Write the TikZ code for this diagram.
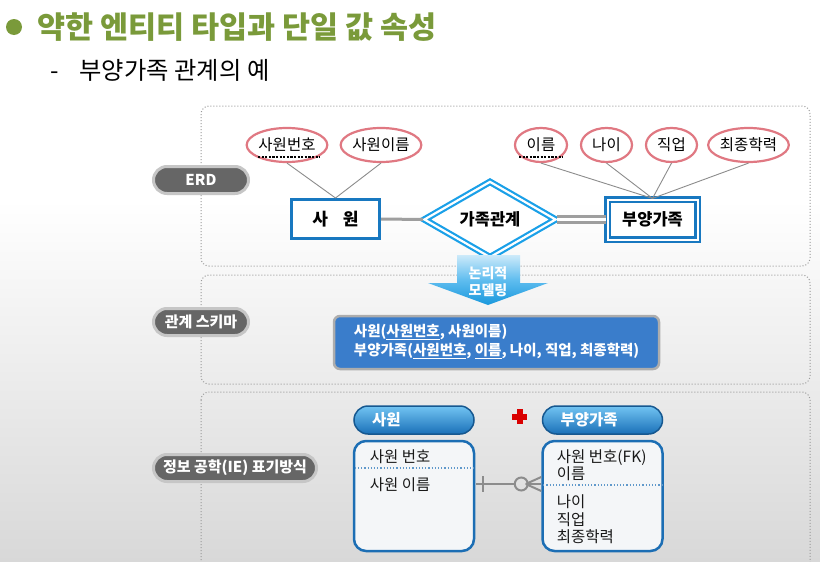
\documentclass[tikz,border=0pt]{standalone}
\usepackage{fontspec}
\setmainfont{Noto Sans CJK KR}
\usetikzlibrary{shapes.geometric,calc}
\definecolor{titlegreen}{HTML}{7A9A3A}
\definecolor{entblue}{HTML}{1878C0}
\definecolor{relblue}{HTML}{1AA0E8}
\definecolor{attrpink}{HTML}{E07882}
\definecolor{pillgray}{HTML}{666666}
\definecolor{pillrim}{HTML}{C6C6C6}
\definecolor{dotgray}{HTML}{9A9A9A}
\definecolor{schemablue}{HTML}{3A7DCB}
\definecolor{linegray}{HTML}{8C8C8C}
\definecolor{bggray}{HTML}{D8D8D8}
\definecolor{iebody}{HTML}{F4F6F8}
\definecolor{ieborder}{HTML}{1C6EB4}
\definecolor{HeadTop}{HTML}{72C4F2}
\definecolor{HeadBot}{HTML}{1A70B8}
\newcommand{\myfs}[2]{\fontsize{#1}{#2}\selectfont}
\begin{document}
\begin{tikzpicture}[x=1pt,y=-1pt,
  frame/.style={draw=dotgray, dotted, line width=1pt, rounded corners=8pt},
  pill/.style={draw=pillrim, line width=3pt, fill=pillgray, rounded corners=13.5pt, minimum height=27pt, text=white, font=\myfs{15}{17}\bfseries, inner sep=0},
  attr/.style={ellipse, draw=attrpink, line width=2.2pt, fill=white, minimum height=34pt, inner sep=0, font=\myfs{15.5}{17}},
  entity/.style={draw=entblue, line width=3pt, fill=white, minimum width=88pt, minimum height=39pt, inner sep=0, font=\myfs{17}{19}\bfseries},
  weakentity/.style={draw=entblue, line width=2.2pt, double=white, double distance=2pt, fill=white, minimum width=90pt, minimum height=40pt, inner sep=0, font=\myfs{16.5}{18}\bfseries},
  relation/.style={diamond, draw=relblue, line width=2.2pt, double=white, double distance=2.2pt, fill=white, minimum width=132pt, minimum height=56pt, inner sep=0, font=\myfs{16.5}{18}\bfseries},
  attrline/.style={draw=linegray, line width=0.9pt},
  keyline/.style={draw=black, line width=2pt, dash pattern=on 2.2pt off 1.4pt},
  headpill/.style={draw=ieborder!80!black, line width=1.5pt, top color=HeadTop, bottom color=HeadBot, rounded corners=14pt, minimum height=28pt, minimum width=120pt, text width=84pt, inner xsep=18pt, align=left, text=white, font=\myfs{15.5}{17}\bfseries},
  iebox/.style={draw=ieborder, line width=2.5pt, fill=iebody, rounded corners=12pt, minimum width=120pt, minimum height=110pt},
  ietext/.style={anchor=west, align=left, inner sep=0, font=\myfs{15.5}{16.5}, text=black!90},
  ieline/.style={draw=linegray, line width=2pt},
]
\useasboundingbox (0,0) rectangle (820,562);
\clip (0,0) rectangle (820,562);
% background
\fill[white] (0,0) rectangle (820,562);
\shade[top color=white, bottom color=bggray] (0,200) rectangle (820,562);

% title
\fill[titlegreen] (14,27) circle (8);
\node[anchor=west, inner sep=0, text=titlegreen, font=\myfs{30.5}{33}\bfseries] (title) at (37,27) {약한 엔티티 타입과 단일 값 속성};
\node[anchor=west, inner sep=0, font=\myfs{24.3}{27}] (subtitle) at (50,70) {-\hspace{21pt}부양가족 관계의 예};

% frames
\draw[frame] (201,106) rectangle (810,266);
\draw[frame] (201,275) rectangle (810,384);
\draw[frame] (201,392) rectangle (810,620);

% pills
\node[pill, minimum width=95pt] (pERD) at (201,180) {ERD};
\node[pill, minimum width=95pt] (pSchema) at (201,322) {관계 스키마};
\node[pill, minimum width=163pt] (pIE) at (235,468) {정보 공학(IE) 표기방식};

% ERD
\node[entity] (emp) at (335.5,219) {사\hspace{15pt}원};
\node[relation] (rel) at (490,219.5) {가족관계};
\node[weakentity] (dep) at (652.5,219.5) {부양가족};

\node[attr, minimum width=78pt] (a1) at (287,145) {사원번호};
\node[attr, minimum width=78pt] (a2) at (381,145) {사원이름};
\node[attr, minimum width=52pt] (b1) at (541,145) {이름};
\node[attr, minimum width=51pt] (b2) at (606.5,145) {나이};
\node[attr, minimum width=51pt] (b3) at (671.5,145) {직업};
\node[attr, minimum width=79pt] (b4) at (748.5,145) {최종학력};

\draw[keyline] ($(a1.center)+(-29,11.5)$) -- ($(a1.center)+(33,11.5)$);
\draw[keyline] ($(b1.center)+(-22,11.5)$) -- ($(b1.center)+(22,11.5)$);

\draw[attrline] (a1.south) -- (emp.north);
\draw[attrline] (a2.south) -- (emp.north);
\draw[attrline] (b1.south) -- (dep.north);
\draw[attrline] (b2.south) -- (dep.north);
\draw[attrline] (b3.south) -- (dep.north);
\draw[attrline] (b4.south) -- (dep.north);

\draw[draw=black!38, line width=3pt] (emp.east) -- (rel.west);
\draw[draw=black!38, line width=2.4pt, double=white, double distance=3.5pt] (rel.east) -- (dep.west);

% arrow
\shade[top color=relblue!22, bottom color=relblue!95!black, middle color=relblue!70]
  (457,255) -- (520,255) -- (520,283) -- (548,283) -- (488,305) -- (428,283) -- (457,283) -- cycle;
\node[align=center, text=white, font=\myfs{14}{17}\bfseries, inner sep=0] (arrowtxt) at (488,281.5) {논리적\\모델링};

% schema
\node[draw=black!32, line width=2.5pt, fill=schemablue, rounded corners=6pt, minimum width=325pt, minimum height=53pt] (schema) at (496.5,342.5) {};
\node[anchor=west, align=left, inner sep=0, text=white, font=\myfs{14.5}{19.5}\bfseries] (schematext) at ($(schema.west)+(21,-1)$)
  {사원(\underline{사원번호}, 사원이름)\\부양가족(\underline{사원번호}, \underline{이름}, 나이, 직업, 최종학력)};

% IE notation
\node[headpill] (eh) at (414,420) {사원};
\node[headpill] (dh) at (602.5,420) {부양가족};
\node[iebox] (eb) at (414,496) {};
\node[iebox] (db) at (602.5,496) {};

\draw[draw=ieborder!70, dotted, line width=1.2pt] ($(eb.west)+(2,-28)$) -- ($(eb.east)+(-2,-28)$);
\draw[draw=ieborder!70, dotted, line width=1.2pt] ($(db.west)+(2,-11)$) -- ($(db.east)+(-2,-11)$);

\node[ietext] (et1) at ($(eb.west)+(17,-39)$) {사원 번호};
\node[ietext] (et2) at ($(eb.west)+(17,-11)$) {사원 이름};
\node[ietext, font=\myfs{15.5}{16.5}] (dt1) at ($(db.west)+(15.5,-31)$) {사원 번호(FK)\\이름};
\node[ietext, font=\myfs{15.5}{17.5}] (dt2) at ($(db.west)+(15.5,23.5)$) {나이\\직업\\최종학력};

% red cross
\fill[red!85!black] (512,413.5) rectangle (527,419.5);
\fill[red!85!black] (516.5,409) rectangle (522.5,424);

% crow's foot connector
\node[circle, draw=linegray, line width=2pt, minimum size=13pt, inner sep=0] (crowO) at ($(db.west)+(-20,-12)$) {};
\draw[ieline] ($(eb.east)+(1,-12)$) -- (crowO.west);
\draw[ieline] ($(eb.east)+(8,-20)$) -- ($(eb.east)+(8,-4)$);
\draw[ieline] ($(crowO.east)+(-3,0)$) -- ($(db.west)+(0,-19)$);
\draw[ieline] ($(crowO.east)+(-3,0)$) -- ($(db.west)+(0,-12)$);
\draw[ieline] ($(crowO.east)+(-3,0)$) -- ($(db.west)+(0,-5)$);
\end{tikzpicture}
\end{document}
